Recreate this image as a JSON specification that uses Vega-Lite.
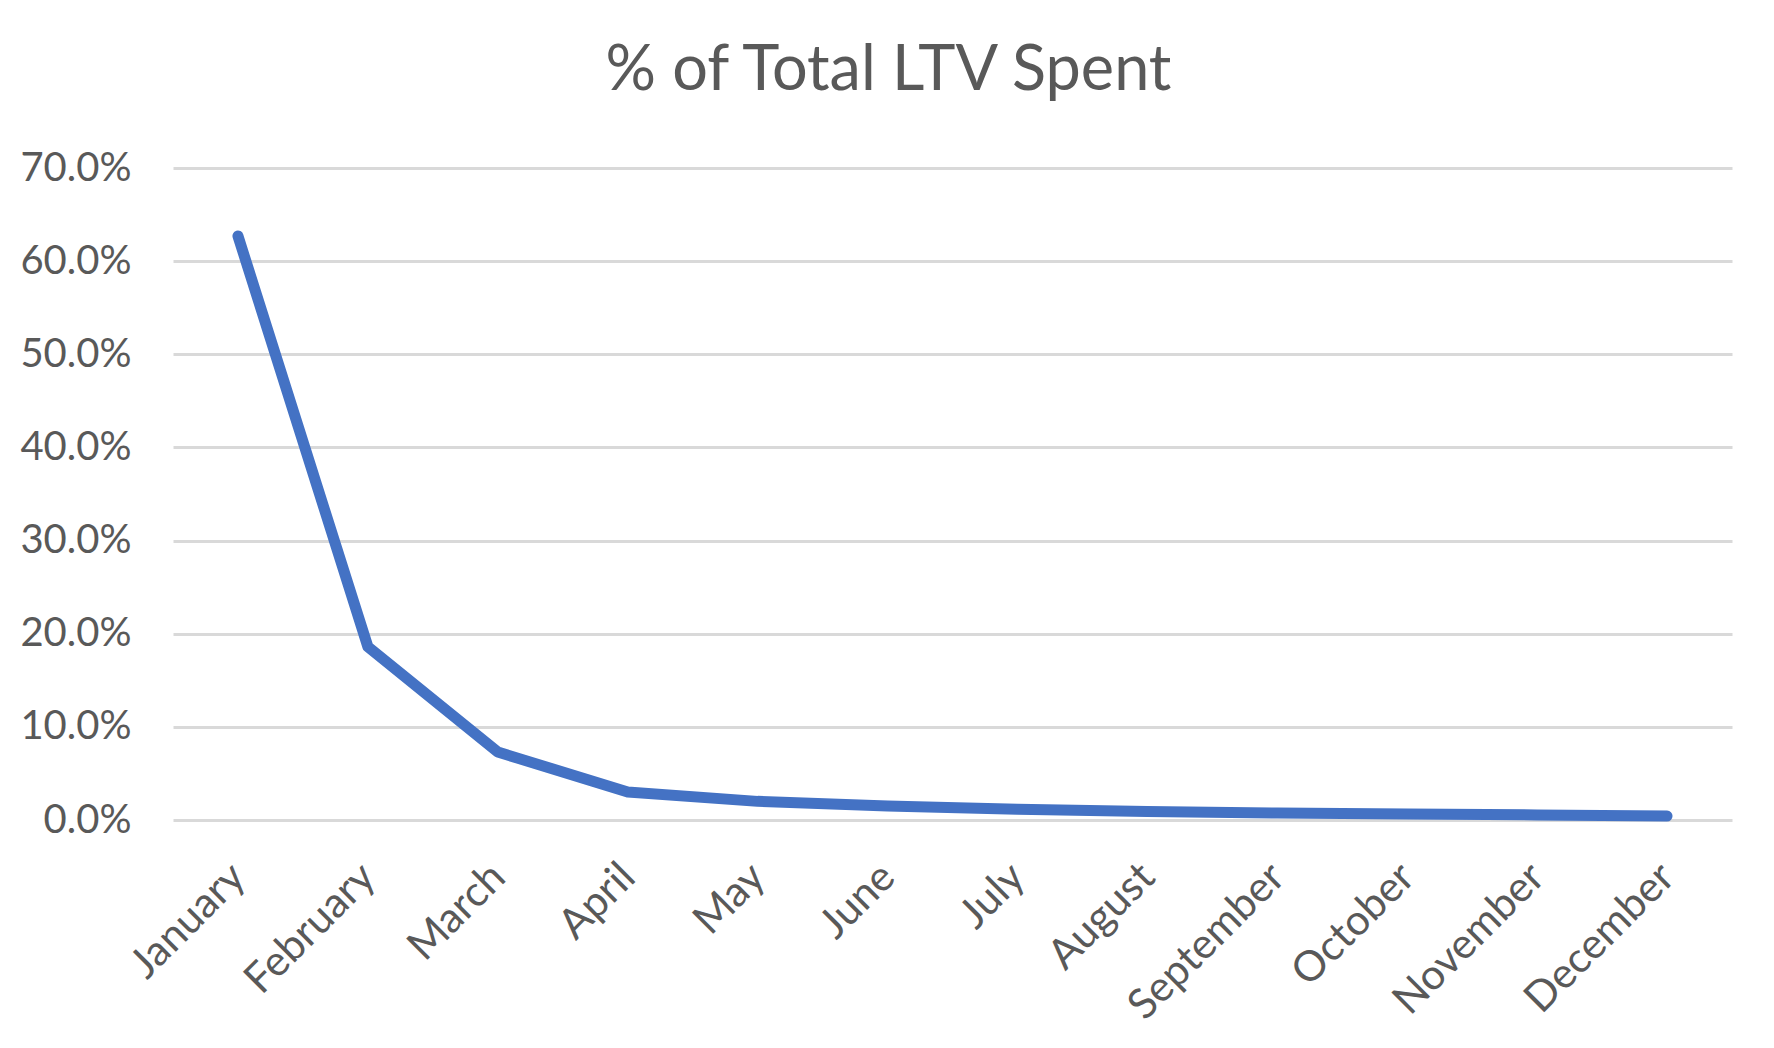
{
  "$schema": "https://vega.github.io/schema/vega-lite/v6.json",
  "width": 1559,
  "height": 652,
  "autosize": {"type": "none"},
  "padding": {"left": 173, "top": 168, "right": 42, "bottom": 228},
  "background": "white",
  "title": {
    "text": "% of Total LTV Spent",
    "font": "Lato",
    "fontSize": 63,
    "fontWeight": "normal",
    "color": "#595959",
    "anchor": "middle",
    "baseline": "alphabetic",
    "dx": -64,
    "dy": 65,
    "offset": 60
  },
  "data": {
    "values": [
      {"month": "January", "share": 0.627},
      {"month": "February", "share": 0.186},
      {"month": "March", "share": 0.073},
      {"month": "April", "share": 0.03},
      {"month": "May", "share": 0.02},
      {"month": "June", "share": 0.015},
      {"month": "July", "share": 0.0115},
      {"month": "August", "share": 0.009},
      {"month": "September", "share": 0.0075},
      {"month": "October", "share": 0.0065},
      {"month": "November", "share": 0.0055},
      {"month": "December", "share": 0.0043}
    ]
  },
  "mark": {
    "type": "line",
    "color": "#4472C4",
    "strokeWidth": 11,
    "strokeCap": "round",
    "strokeJoin": "round"
  },
  "encoding": {
    "x": {
      "field": "month",
      "type": "nominal",
      "sort": null,
      "scale": {"type": "point", "padding": 0.5},
      "axis": {
        "title": null,
        "labelAngle": -45,
        "labelAlign": "right",
        "labelBaseline": "middle",
        "labelPadding": 50,
        "labelFont": "Lato",
        "labelFontSize": 42,
        "labelColor": "#595959",
        "labelLimit": 0,
        "labelOverlap": false,
        "ticks": false,
        "domain": false,
        "grid": false
      }
    },
    "y": {
      "field": "share",
      "type": "quantitative",
      "scale": {"domain": [0, 0.7], "nice": false},
      "axis": {
        "title": null,
        "values": [0, 0.1, 0.2, 0.3, 0.4, 0.5, 0.6, 0.7],
        "format": ".1%",
        "labelFont": "Lato",
        "labelFontSize": 40,
        "labelColor": "#595959",
        "labelPadding": 42,
        "ticks": false,
        "domain": false,
        "grid": true,
        "gridColor": "#D9D9D9",
        "gridWidth": 3
      }
    }
  },
  "config": {
    "view": {"stroke": null}
  }
}
